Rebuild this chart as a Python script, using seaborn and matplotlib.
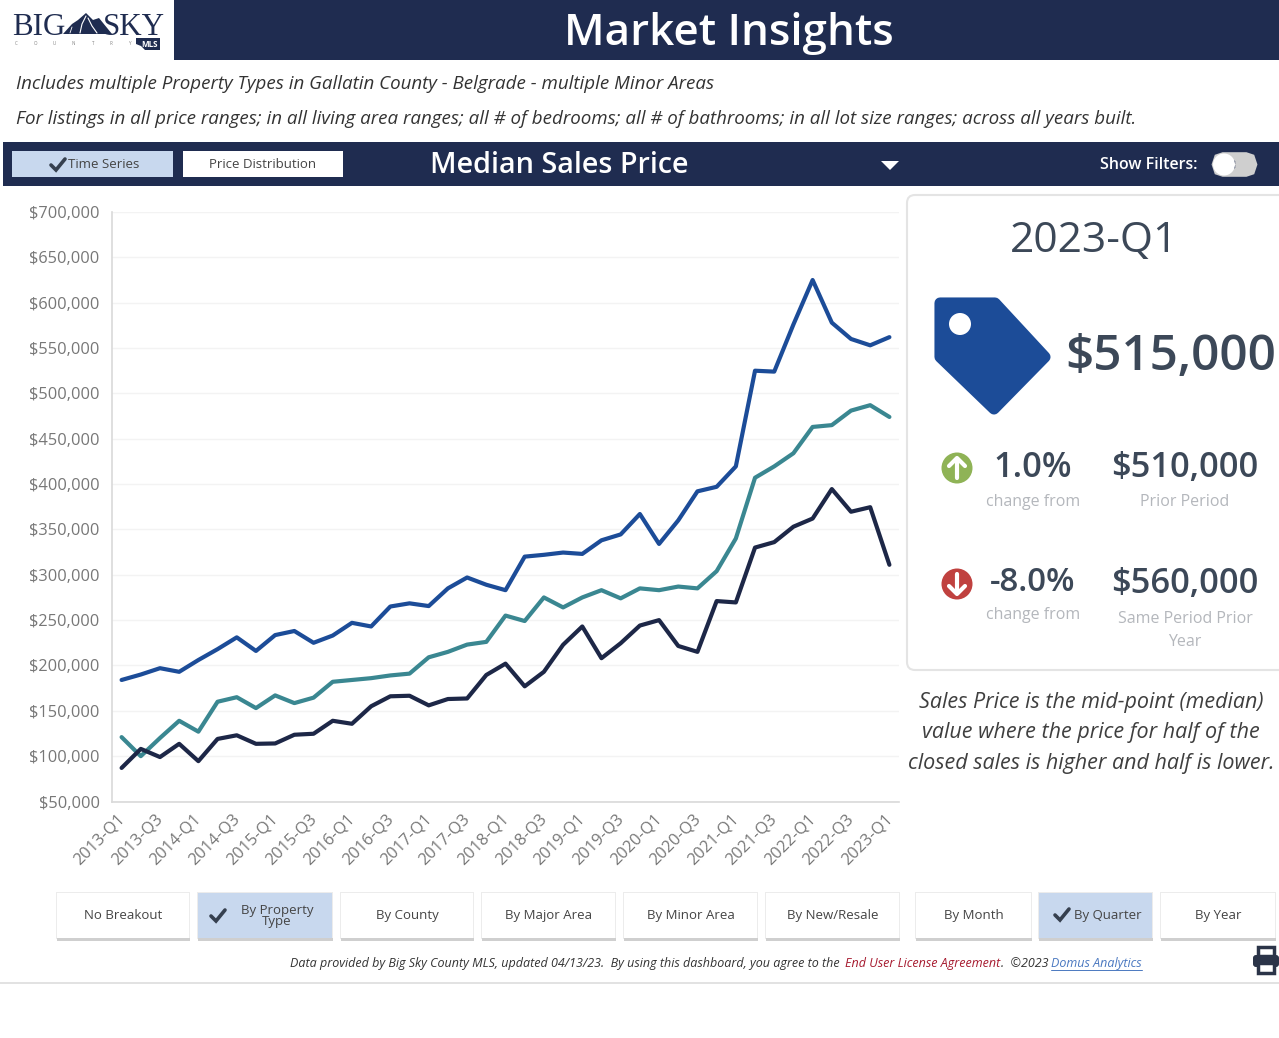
import pandas as pd
import seaborn as sns
import matplotlib
matplotlib.use("Agg")
import matplotlib.pyplot as plt
from matplotlib.patches import FancyBboxPatch, Polygon, Circle, Rectangle
from matplotlib.ticker import FuncFormatter
from matplotlib.transforms import ScaledTranslation

# quarters on the x axis
quarters = [f"{y}-Q{q}" for y in range(2013, 2023) for q in (1, 2, 3, 4)] + ["2023-Q1"]

# median prices in $1000s
blue_vals = [184, 190, 197, 193, 206, 218, 231, 216, 233.5, 238, 225, 233, 247, 243, 265, 268.5, 265.5, 285, 297,
             289, 283, 320, 322, 324.5, 323, 338, 344.5, 367, 334, 360, 392, 397, 419.5, 525, 524, 576, 625, 578,
             560, 553, 562]
teal_vals = [121, 100, 120, 139, 127, 160, 165, 153, 167, 158.5, 164.5, 182, 184, 186, 189, 191, 209, 215, 223,
             226, 255, 249, 275, 264, 275, 283, 274, 285, 283, 287, 285, 304, 340, 407, 419.5, 434, 463, 465,
             481, 487, 474]
navy_vals = [87, 108, 99, 113.6, 94.5, 119, 123, 113.6, 114, 123.6, 124.7, 139, 135.7, 155, 166, 166.6, 156, 163,
             163.6, 189.5, 202, 177, 193, 222.8, 243, 208, 224.5, 244, 250, 221.5, 215, 271, 269.5, 330, 336,
             353, 362, 394.5, 369.5, 374.5, 311]

y_ticks = list(range(50, 701, 50))
breakout_labels = ["No Breakout", "By Property\nType", "By County", "By Major Area", "By Minor Area", "By New/Resale"]
period_labels = ["By Month", "By Quarter", "By Year"]

NAVY = "#1f2c50"
BLUE = "#1c4c98"
TEAL = "#3a8791"
DARK = "#1d2747"
SLATE = "#3c4858"
PALE = "#c8d8ee"

sns.set_theme(style="white")
plt.rcParams["font.family"] = ["Open Sans", "DejaVu Sans"]

fig = plt.figure(figsize=(12.79, 10.38), dpi=100)
bg = fig.add_axes([0, 0, 1, 1])
bg.set_xlim(0, 1279)
bg.set_ylim(1038, 0)
bg.axis("off")


def txt(x, y, s, px, color=SLATE, ha="center", **kw):
    # Open Sans sits a bit high when centred, so push it down
    return bg.text(x, y + 0.1 * px, s, fontsize=px * 0.72, color=color, ha=ha, va="center", **kw)


def check(x, y, size=1.0, color="#36404f"):
    bg.plot([x - 7 * size, x - 2 * size, x + 7 * size], [y, y + 5 * size, y - 6 * size], color=color, lw=2.6, solid_joinstyle="miter")


def button(x0, y0, x1, y1, fc="white", shadow=True):
    if shadow:
        bg.add_patch(Rectangle((x0 - 1, y0 - 1), x1 - x0 + 2, y1 - y0 + 2, fc="#ececec", ec="none"))
        bg.add_patch(Rectangle((x0, y1), x1 - x0 + 1, 2.5, fc="#cfcfcf", ec="none"))
    bg.add_patch(Rectangle((x0, y0), x1 - x0, y1 - y0, fc=fc, ec="none"))


# header
bg.add_patch(Rectangle((174, 0), 1105, 60, fc=NAVY, ec="none"))
txt(729, 29, "Market Insights", 44, color="white", weight="semibold")

# logo
txt(12, 24, "BIG", 31, color=NAVY, ha="left", family="Liberation Serif")
txt(165, 24, "SKY", 31, color=NAVY, ha="right", family="Liberation Serif")
bg.add_patch(Polygon([(63, 34), (72, 24), (78, 20), (86, 13), (93, 20), (99, 18), (112, 34)], fc=NAVY, ec="none"))
bg.plot([86, 82, 80], [16, 24, 33], color="white", lw=0.8)
bg.plot([88, 92, 97], [18, 26, 33], color="white", lw=0.8)
bg.plot([72, 70], [27, 33], color="white", lw=0.6)
for i, letter in enumerate("COUNTRY"):
    txt(16 + i * 19, 43, letter, 4.5, color="#808080")
bg.add_patch(Polygon([(136, 38), (160, 38), (160, 50), (145, 50), (141, 46), (136, 44)], fc=NAVY, ec="none"))
txt(150, 43.5, "MLS", 8, color="white", weight="bold")

# subtitle
txt(16, 82.5, "Includes multiple Property Types in Gallatin County - Belgrade - multiple Minor Areas", 18.8, color="#333333", ha="left", style="italic")
txt(16, 117.5, "For listings in all price ranges; in all living area ranges; all # of bedrooms; all # of bathrooms; in all lot size ranges; across all years built.", 18.8, color="#333333", ha="left", style="italic")

# control bar
bg.add_patch(Rectangle((3, 142), 1276, 44, fc=NAVY, ec="none"))
button(12, 151, 173, 177, fc=PALE, shadow=False)
check(58, 165, 1.0)
txt(104, 163, "Time Series", 13.2, color="#444444")
button(183, 151, 343, 177, shadow=False)
txt(263, 163, "Price Distribution", 13.2, color="#444444")
txt(559, 163, "Median Sales Price", 28.7, color="white", weight="semibold")
bg.add_patch(Polygon([(881, 161), (899, 161), (890, 170)], fc="white", ec="none"))
txt(1198, 163.5, "Show Filters:", 16, color="white", ha="right", weight="semibold")
bg.add_patch(FancyBboxPatch((1224, 164), 21, 1, boxstyle="round,pad=0,rounding_size=0.5", fc="#cfcfcf", ec="#cfcfcf", lw=17))
bg.add_patch(Circle((1224, 164.5), 11, fc="white", ec="none"))

# card on the right
bg.add_patch(FancyBboxPatch((907, 195), 420, 475, boxstyle="round,pad=0,rounding_size=8", fc="white", ec="#e4e4e4", lw=1.5))
txt(1094, 237, "2023-Q1", 42.5)
bg.add_patch(Polygon([(940, 303), (995, 303), (1045, 357), (994, 409), (940, 357)], fc=BLUE, ec=BLUE, lw=8, joinstyle="round"))
bg.add_patch(Circle((960, 324), 11, fc="white", ec="none"))
txt(1065, 353, "$515,000", 49.5, ha="left", weight="semibold")

bg.add_patch(Circle((957, 468), 15.5, fc="#8fb356", ec="none"))
bg.plot([957, 957], [478, 460], color="white", lw=3)
bg.plot([949, 957, 965], [466, 458, 466], color="white", lw=3)
txt(1033, 465, "1.0%", 34.5, weight="semibold")
txt(1185, 465, "$510,000", 34.5, weight="semibold")
txt(1033, 500, "change from", 16, color="#b4b7bc")
txt(1185, 500, "Prior Period", 16, color="#b4b7bc")

bg.add_patch(Circle((957, 584), 15.5, fc="#c0413f", ec="none"))
bg.plot([957, 957], [574, 592], color="white", lw=3)
bg.plot([949, 957, 965], [586, 594, 586], color="white", lw=3)
txt(1033, 579, "-8.0%", 33, weight="semibold")
txt(1185, 581, "$560,000", 34.5, weight="semibold")
txt(1033, 613, "change from", 16, color="#b4b7bc")
txt(1185, 617, "Same Period Prior", 16, color="#b4b7bc")
txt(1185, 640, "Year", 16, color="#b4b7bc")

note = ["Sales Price is the mid-point (median)", "value where the price for half of the", "closed sales is higher and half is lower."]
for line_y, line in zip((700, 730, 761), note):
    txt(1091, line_y, line, 21.5, color="#3f3f3f", style="italic")

# bottom buttons
breakout_x = [(57, 189), (198, 332), (341, 473), (482, 615), (624, 757), (766, 899)]
for (x0, x1), label in zip(breakout_x, breakout_labels):
    active = label.startswith("By Property")
    button(x0, 893, x1, 938, fc=PALE if active else "white")
    tx = (x0 + x1) / 2 + (12 if active else 0)
    txt(tx, 914.5, label, 13.2, color="#444444", linespacing=0.85)
check(218, 916, 1.0)

period_x = [(916, 1031), (1039, 1152), (1161, 1275)]
for (x0, x1), label in zip(period_x, period_labels):
    active = label == "By Quarter"
    button(x0, 893, x1, 938, fc=PALE if active else "white")
    txt((x0 + x1) / 2 + (12 if active else 0), 914, label, 13.2, color="#444444")
check(1062, 915, 1.0)

# footer
txt(290, 962.5, "Data provided by Big Sky County MLS, updated 04/13/23.  By using this dashboard, you agree to the", 12.5, color="#333333", ha="left", style="italic")
txt(845, 962.5, "End User License Agreement", 12.5, color="#a6192e", ha="left", style="italic")
txt(1001, 962.5, ".  \u00a92023", 12.5, color="#333333", ha="left", style="italic")
txt(1051, 962.5, "Domus Analytics", 12.5, color="#4a78c0", ha="left", style="italic")
bg.plot([1051, 1142], [970, 970], color="#4a78c0", lw=0.7)
bg.plot([0, 1279], [983, 983], color="#dddddd", lw=1.2)

# printer
bg.add_patch(Rectangle((1258, 947), 16, 9, fc="white", ec="#2b3448", lw=2.5))
bg.add_patch(FancyBboxPatch((1253, 955), 26, 12, boxstyle="round,pad=0,rounding_size=3", fc="#2b3448", ec="none"))
bg.add_patch(Rectangle((1258, 963), 16, 10, fc="white", ec="#2b3448", lw=2.5))

# the chart itself
df = pd.DataFrame({"quarter": quarters, "blue": blue_vals, "teal": teal_vals, "navy": navy_vals})
long_df = df.melt(id_vars="quarter", var_name="series", value_name="price")

ax = fig.add_axes([112 / 1279, 1 - 801.5 / 1038, 787 / 1279, 589.5 / 1038])
ax.patch.set_alpha(0)
sns.lineplot(data=long_df, x="quarter", y="price", hue="series", palette={"blue": BLUE, "teal": TEAL, "navy": DARK},
             hue_order=["blue", "teal", "navy"], sort=False, linewidth=3, legend=False, ax=ax)
ax.set_xlim(-0.5, 40.5)
ax.set_ylim(50, 700)
ax.set_yticks(y_ticks)
ax.yaxis.set_major_formatter(FuncFormatter(lambda v, p: f"${v * 1000:,.0f}"))
ax.set_xticks(range(0, 41, 2))
ax.set_xticklabels(quarters[::2], rotation=45, ha="right", rotation_mode="anchor")
ax.set_xlabel("")
ax.set_ylabel("")
ax.tick_params(axis="both", length=0, labelsize=11.8, labelcolor="#777777")
ax.tick_params(axis="y", pad=9)
ax.tick_params(axis="x", pad=7)
shift = ScaledTranslation(-5 / 100, 0, fig.dpi_scale_trans)
for lab in ax.get_xticklabels():
    lab.set_transform(lab.get_transform() + shift)
ax.grid(axis="y", color="#f3f3f3", lw=1)
ax.set_axisbelow(True)
sns.despine(ax=ax)
for side in ("left", "bottom"):
    ax.spines[side].set_color("#d9d9d9")
    ax.spines[side].set_linewidth(1.2)

fig.savefig("out.png", dpi=100)
